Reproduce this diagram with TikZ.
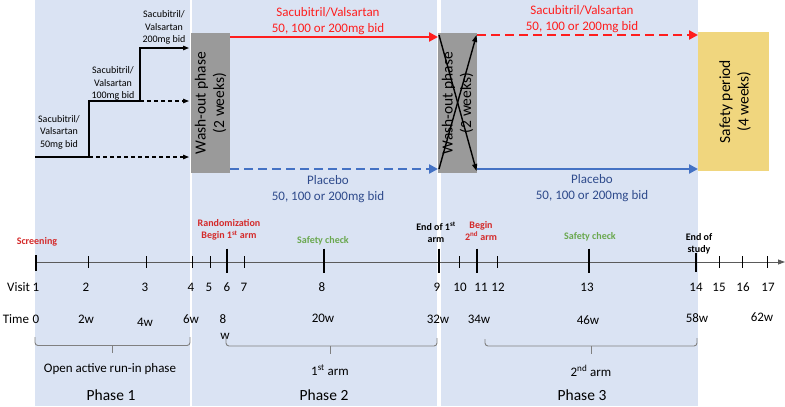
\documentclass[tikz,border=0pt]{standalone}
\usepackage{fontspec}
\setmainfont{Carlito}
\usetikzlibrary{arrows.meta}
\definecolor{panel}{HTML}{DAE3F3}
\definecolor{boxgray}{HTML}{9A9A9A}
\definecolor{safeyellow}{HTML}{F0D67E}
\definecolor{redline}{HTML}{FF1E1E}
\definecolor{blueline}{HTML}{4472C4}
\definecolor{bluetext}{HTML}{2F4B8C}
\definecolor{redtag}{HTML}{D42A2A}
\definecolor{greentag}{HTML}{6AA84F}
\definecolor{axisgray}{HTML}{5A5A5A}
\definecolor{bracegray}{HTML}{808080}
\begin{document}
\begin{tikzpicture}[x=1pt,y=-1pt,
  every node/.style={inner sep=0pt,outer sep=0pt},
  lbl/.style={font=\fontsize{13}{16}\selectfont,align=center},
  small/.style={font=\fontsize{10}{12.5}\selectfont,align=center},
  tag/.style={font=\fontsize{10}{12}\selectfont\bfseries,align=center},
  big/.style={font=\fontsize{15.5}{18.5}\selectfont,align=center},
  washbox/.style={fill=boxgray,minimum width=39pt,minimum height=140pt},
  redarr/.style={redline,line width=2.4pt,-{Triangle[length=9pt,width=9pt]}},
  bluearr/.style={blueline,line width=2.4pt,-{Triangle[length=9pt,width=9pt]}},
  dashpat/.style={dash pattern=on 9pt off 5pt},
  steparr/.style={black,line width=1.2pt},
  smalltip/.style={-{Triangle[length=6pt,width=4.5pt]}},
  crossarr/.style={black,line width=1.4pt,-{Triangle[length=7pt,width=5pt]}},
  tick/.style={black,line width=0.8pt},
  bigtick/.style={black,line width=2.2pt},
  bracket/.style={bracegray,line width=0.9pt,rounded corners=3pt}
]
\useasboundingbox (0,0) rectangle (785,407);
% panels
\fill[panel] (35,0) rectangle (190,406);
\fill[panel] (192,0) rectangle (437,406);
\fill[panel] (441,0) rectangle (698,406);

% boxes
\node[washbox] (wo1) at (210.5,103) {};
\node[big,rotate=90] (wo1t) at (wo1.center) {Wash-out phase\\(2 weeks)};
\node[washbox] (wo2) at (457.5,103) {};
\node[big,rotate=90] (wo2t) at (wo2.center) {Wash-out phase\\(2 weeks)};
\node[fill=safeyellow,minimum width=71pt,minimum height=139pt] (safe) at (733.5,101.5) {};
\node[big,rotate=90] (safet) at ([xshift=1.5pt]safe.center) {Safety period\\(4 weeks)};

% phase 1 steps
\coordinate (s0) at (35,157);
\coordinate (s1) at (89,157);
\coordinate (s2) at (89,101);
\coordinate (s3) at (140,101);
\coordinate (s4) at (140,48);
\coordinate (e1) at (189,157);
\coordinate (e2) at (189,101);
\coordinate (e3) at (189,48);
\draw[steparr,smalltip] (s0) -- (s1) -- (s2) -- (s3) -- (s4) -- (e3);
\draw[steparr,smalltip,dash pattern=on 4pt off 3pt] (s1) -- (e1);
\draw[steparr,smalltip,dash pattern=on 4pt off 3pt] (s3) -- (e2);
\node[small] (d50) at (59,132) {Sacubitril/\\Valsartan\\50mg bid};
\node[small] (d100) at (113,83.5) {Sacubitril/\\Valsartan\\100mg bid};
\node[small] (d200) at (164,27.5) {Sacubitril/\\Valsartan\\200mg bid};

% phase 2 arms
\draw[redarr] ([yshift=-4pt]wo1.north east) -- ([yshift=-4pt]wo2.north west);
\draw[bluearr,dashpat] ([yshift=4pt]wo1.south east) -- ([yshift=4pt]wo2.south west);
\node[lbl,text=redline] (r2) at (328,21) {Sacubitril/Valsartan\\50, 100 or 200mg bid};
\node[lbl,text=bluetext] (b2) at (328,189) {Placebo\\50, 100 or 200mg bid};

% cross-over
\draw[crossarr] ([xshift=1pt,yshift=-2pt]wo2.north west) -- ([xshift=-0.5pt,yshift=2pt]wo2.south east);
\draw[crossarr] ([xshift=1pt,yshift=4pt]wo2.south west) -- ([xshift=-0.5pt,yshift=-2pt]wo2.north east);

% phase 3 arms
\draw[redarr,dashpat] ([yshift=-2pt]wo2.north east) -- (safe.west |- 0,35);
\draw[bluearr] ([yshift=4pt]wo2.south east) -- (safe.west |- 0,169);
\node[lbl,text=redline] (r3) at (582,19) {Sacubitril/Valsartan\\50, 100 or 200mg bid};
\node[lbl,text=bluetext] (b3) at (592,188) {Placebo\\50, 100 or 200mg bid};

% timeline
\coordinate (tl0) at (35,262);
\coordinate (tlend) at (785,262);
\draw[axisgray,line width=0.8pt,-{Triangle[length=7pt,width=5pt]}] (tl0) -- (tlend);
\foreach \n/\x in {2/88,3/146,4/192,5/210,7/244,10/459,12/497,15/719,16/742,17/767}{
  \coordinate (v\n) at (\x,262);
  \draw[tick] ([yshift=6pt]v\n) -- ([yshift=-6pt]v\n);
}
\foreach \n/\x in {6/227,8/324,9/439,11/477,13/589}{
  \coordinate (v\n) at (\x,262);
  \draw[bigtick] ([yshift=13.5pt]v\n) -- ([yshift=-10.5pt]v\n);
}
\coordinate (v1) at (36,262);
\draw[bigtick] ([yshift=7pt]v1) -- ([yshift=-9pt]v1);
\coordinate (v14) at (696,262);
\draw[bigtick] ([yshift=9pt]v14) -- ([yshift=-10pt]v14);

% tags above timeline
\node[tag,text=redtag] (scr) at (37,242) {Screening};
\node[tag,text=redtag] (rand) at (229,230) {Randomization\\Begin 1\textsuperscript{st} arm};
\node[tag,text=greentag] (sc1) at (323,241) {Safety check};
\node[tag] (end1) at (436,232.5) {End of 1\textsuperscript{st}\\arm};
\node[tag,text=redtag] (beg2) at (481,231) {Begin\\2\textsuperscript{nd} arm};
\node[tag,text=greentag] (sc2) at (590,237) {Safety check};
\node[tag] (endst) at (699,243.5) {End of\\study};

% visit row
\node[lbl,anchor=east] (visit) at (30,287) {Visit};
\foreach \n/\x in {1/36,2/86,3/145,4/191,5/209,6/227,7/244,8/322,9/437,10/460,11/481,12/498,13/587,14/696,15/719,16/743,17/768}{
  \node[lbl] (vn\n) at (\x,287) {\n};
}
% time row
\node[lbl,anchor=east] (time) at (29,319) {Time};
\node[lbl] (t0) at (36,319) {0};
\node[lbl] (t2) at (86,319) {2w};
\node[lbl] (t4) at (145,322) {4w};
\node[lbl] (t6) at (191,319) {6w};
\node[lbl] (t8) at (223,319) {8};
\node[lbl] (t8w) at (225,336) {w};
\node[lbl] (t20) at (323,318) {20w};
\node[lbl] (t32) at (438,319) {32w};
\node[lbl] (t34) at (479,319) {34w};
\node[lbl] (t46) at (588,320) {46w};
\node[lbl] (t58) at (697,318) {58w};
\node[lbl] (t62) at (762,317) {62w};

% brackets
\draw[bracket] (35,337) -- (35,345.5) -- (190,345.5) -- (190,337);
\draw[bracegray,line width=0.9pt] (112,345.5) -- (112,353);
\draw[bracket] (226,337) -- (226,346) -- (437,346) -- (437,338);
\draw[bracegray,line width=0.9pt] (330,346) -- (330,354);
\draw[bracket] (485,339) -- (485,346) -- (697,346) -- (697,338);
\draw[bracegray,line width=0.9pt] (591,346) -- (591,354);

\node[lbl] (run) at (110,369) {Open active run-in phase};
\node[lbl] (arm1) at (330,370) {1\textsuperscript{st} arm};
\node[lbl] (arm2) at (591,371) {2\textsuperscript{nd} arm};
\node[big] (ph1) at (111,395) {Phase 1};
\node[big] (ph2) at (324,395) {Phase 2};
\node[big] (ph3) at (582,395) {Phase 3};
\end{tikzpicture}
\end{document}
